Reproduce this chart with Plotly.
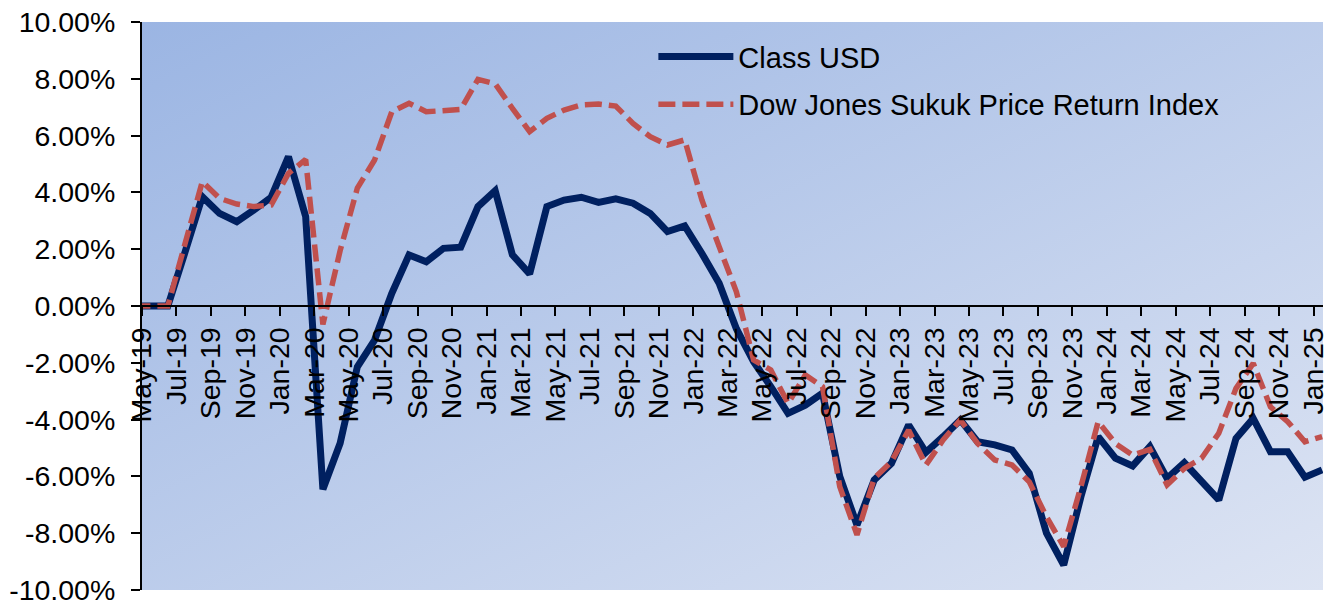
import base64
import plotly.graph_objects as go

# ---- data (values in %) ----
months = ["Apr-19", "May-19", "Jun-19", "Jul-19", "Aug-19", "Sep-19", "Oct-19", "Nov-19", "Dec-19",
          "Jan-20", "Feb-20", "Mar-20", "Apr-20", "May-20", "Jun-20", "Jul-20", "Aug-20", "Sep-20", "Oct-20", "Nov-20", "Dec-20",
          "Jan-21", "Feb-21", "Mar-21", "Apr-21", "May-21", "Jun-21", "Jul-21", "Aug-21", "Sep-21", "Oct-21", "Nov-21", "Dec-21",
          "Jan-22", "Feb-22", "Mar-22", "Apr-22", "May-22", "Jun-22", "Jul-22", "Aug-22", "Sep-22", "Oct-22", "Nov-22", "Dec-22",
          "Jan-23", "Feb-23", "Mar-23", "Apr-23", "May-23", "Jun-23", "Jul-23", "Aug-23", "Sep-23", "Oct-23", "Nov-23", "Dec-23",
          "Jan-24", "Feb-24", "Mar-24", "Apr-24", "May-24", "Jun-24", "Jul-24", "Aug-24", "Sep-24", "Oct-24", "Nov-24", "Dec-24",
          "Jan-25"]

class_usd = [0, 0, 0, 1.9, 3.85, 3.26, 2.97, 3.38, 3.83,
             5.26, 3.15, -6.45, -4.83, -2.14, -1.2, 0.45, 1.8, 1.56, 2.03, 2.07, 3.5,
             4.06, 1.8, 1.13, 3.5, 3.73, 3.83, 3.65, 3.77, 3.62, 3.26, 2.62, 2.82,
             1.85, 0.8, -0.8, -1.96, -2.84, -3.78, -3.49, -3.07, -6.0, -7.71, -6.13, -5.54,
             -4.19, -5.15, -4.6, -4.01, -4.78, -4.89, -5.07, -5.89, -8.0, -9.12, -6.71, -4.6,
             -5.36, -5.63, -4.95, -6.07, -5.52, -6.19, -6.83, -4.66, -3.96, -5.13, -5.13, -6.03,
             -5.77]

dow_jones_sukuk = [0, 0, 0, 2.2, 4.38, 3.79, 3.59, 3.5, 3.56,
                   4.67, 5.16, -0.65, 1.95, 4.15, 5.14, 6.84, 7.14, 6.84, 6.9, 6.92, 7.98,
                   7.82, 6.96, 6.14, 6.61, 6.9, 7.08, 7.11, 7.04, 6.43, 5.96, 5.67, 5.85,
                   3.73, 2.09, 0.5, -1.9, -2.25, -3.43, -2.43, -2.84, -6.36, -8.06, -6.07, -5.48,
                   -4.37, -5.6, -4.72, -4.01, -4.84, -5.42, -5.6, -6.19, -7.42, -8.47, -6.36, -4.07,
                   -4.84, -5.25, -5.05, -6.3, -5.72, -5.36, -4.48, -2.9, -2.02, -3.55, -4.07, -4.78,
                   -4.6]

x_tick_labels = ["May-19", "Jul-19", "Sep-19", "Nov-19", "Jan-20", "Mar-20", "May-20", "Jul-20", "Sep-20",
                 "Nov-20", "Jan-21", "Mar-21", "May-21", "Jul-21", "Sep-21", "Nov-21", "Jan-22", "Mar-22",
                 "May-22", "Jul-22", "Sep-22", "Nov-22", "Jan-23", "Mar-23", "May-23", "Jul-23", "Sep-23",
                 "Nov-23", "Jan-24", "Mar-24", "May-24", "Jul-24", "Sep-24", "Nov-24", "Jan-25"]

y_tick_values = [-10, -8, -6, -4, -2, 0, 2, 4, 6, 8, 10]
y_tick_labels = ["-10.00%", "-8.00%", "-6.00%", "-4.00%", "-2.00%", "0.00%",
                 "2.00%", "4.00%", "6.00%", "8.00%", "10.00%"]

series_names = ["Class USD", "Dow Jones Sukuk Price Return Index"]

# ---- positions: each month is plotted at the centre of its month slot; axis starts at May-19 ----
first_label = months.index("May-19")
x_pos = [i - first_label + 0.5 for i in range(len(months))]
x_tick_pos = [months.index(m) - first_label for m in x_tick_labels]

FONT = "Liberation Sans, Arial, sans-serif"

fig = go.Figure()
fig.add_trace(go.Scatter(x=x_pos, y=class_usd, mode="lines", name=series_names[0],
                         line=dict(color="#002060", width=7), legendgroup="a"))
fig.add_trace(go.Scatter(x=x_pos, y=dow_jones_sukuk, mode="lines", name=series_names[1],
                         line=dict(color="#C0504D", width=5.5, dash="17px,7px"), legendgroup="b"))

# gradient plot background as an SVG image
svg = ('<svg xmlns="http://www.w3.org/2000/svg" width="1180" height="568" preserveAspectRatio="none">'
       '<defs><linearGradient id="g" x1="0" y1="0" x2="1" y2="1">'
       '<stop offset="0" stop-color="#9BB5E3"/><stop offset="1" stop-color="#DDE4F3"/>'
       '</linearGradient></defs><rect x="0" y="0" width="1180" height="568" fill="url(#g)"/></svg>')
svg_uri = "data:image/svg+xml;base64," + base64.b64encode(svg.encode()).decode()

fig.update_layout(
    width=1335, height=603,
    margin=dict(l=142, r=12, t=22, b=13, autoexpand=False),
    paper_bgcolor="white",
    plot_bgcolor="rgba(0,0,0,0)",
    font=dict(family=FONT, size=28.5, color="black"),
    images=[dict(source=svg_uri, xref="paper", yref="paper", x=0, y=1, sizex=1, sizey=1,
                 xanchor="left", yanchor="top", sizing="stretch", layer="below")],
    showlegend=True,
    legend=dict(x=0.433, y=0.984, xanchor="left", yanchor="top", bgcolor="rgba(0,0,0,0)",
                font=dict(family=FONT, size=29, color="black"), itemwidth=75,
                tracegroupgap=7, traceorder="grouped"),
    xaxis=dict(range=[0, 68.55], tickmode="array", tickvals=x_tick_pos, ticktext=x_tick_labels,
               tickangle=-90, ticks="outside", ticklen=9, tickwidth=1.5, tickcolor="black",
               showline=True, linecolor="black", linewidth=2, showgrid=False, zeroline=False,
               anchor="free", position=0.5, automargin=False, ticklabeloverflow="allow",
               tickfont=dict(family=FONT, size=28.5, color="black")),
    yaxis=dict(range=[-10, 10], tickmode="array", tickvals=y_tick_values, ticktext=y_tick_labels,
               ticks="outside", ticklen=9, tickwidth=1.5, tickcolor="black",
               showline=True, linecolor="black", linewidth=2, showgrid=False, zeroline=False,
               automargin=False, ticklabeloverflow="allow",
               ticklabelstandoff=10, tickfont=dict(family=FONT, size=28.5, color="black")),
)

post = ("document.body.style.margin='0';document.body.style.padding='0';"
        "document.body.style.overflow='hidden';"
        "var gd=document.getElementById('{plot_id}');gd.style.position='absolute';"
        "gd.style.left='0px';gd.style.top='0px';")

fig.write_html("out.html", post_script=post, config={"displayModeBar": False})
